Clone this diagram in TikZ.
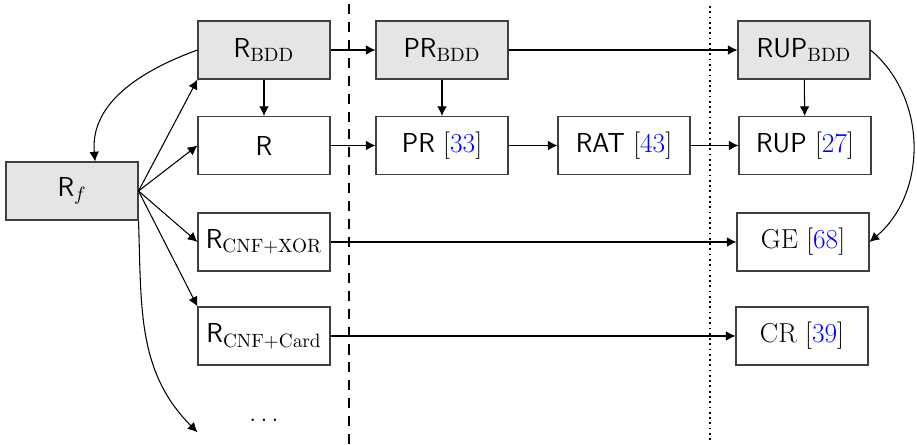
\documentclass[tikz,border=0pt]{standalone}
\usetikzlibrary{arrows.meta}
\newcommand\refc[1]{[\textcolor{blue}{#1}]}
\begin{document}
\begin{tikzpicture}[x=0.02cm,y=-0.02cm,
 box/.style={draw=black!75, line width=0.6pt, minimum width=2.64cm, minimum height=1.16cm, inner sep=0pt, font=\fontsize{15.6}{18}\selectfont},
 gbox/.style={box, fill=black!10},
 arr/.style={-{Latex[length=5.5pt,width=5.5pt]}, line width=0.6pt},
 sepdash/.style={line width=0.9pt, dash pattern=on 5.7pt off 4.5pt},
 sepdot/.style={line width=1pt, dotted}]
\useasboundingbox (0,0) rectangle (917,445);
\node[gbox] (Rf) at (72,191) {\textsf{R}$_f$};
\node[gbox] (RBDD) at (264,50) {\textsf{R}$_{\mathrm{BDD}}$};
\node[box] (R) at (264,145.5) {\textsf{R}};
\node[box] (XOR) at (264,242) {\textsf{R}$_{\mathrm{CNF+XOR}}$};
\node[box] (Card) at (264,336) {\textsf{R}$_{\mathrm{CNF+Card}}$};
\node[box, draw=none] (dots) at (264,420) {$\ldots$};
\node[gbox] (PRBDD) at (442,50) {\textsf{PR}$_{\mathrm{BDD}}$};
\node[box] (PR) at (442,145.5) {\textsf{PR} \refc{33}};
\node[box] (RAT) at (624,145.5) {\textsf{RAT} \refc{43}};
\node[gbox] (RUPBDD) at (804,50) {\textsf{RUP}$_{\mathrm{BDD}}$};
\node[box] (RUP) at (805,145.5) {\textsf{RUP} \refc{27}};
\node[box] (GE) at (803,242) {GE \refc{68}};
\node[box] (CR) at (802,336) {CR \refc{39}};
\draw[sepdash] (349,4) -- (349,445);
\draw[sepdot] (710,6) -- (710,442);
\draw[arr] (RBDD.west) to[out=200,in=95] (Rf.52);
\draw[arr] (Rf.east) -- (RBDD.south west);
\draw[arr] (Rf.east) -- (R.west);
\draw[arr] (Rf.east) -- (XOR.west);
\draw[arr] (Rf.east) -- (Card.north west);
\draw[arr] (Rf.south east) to[out=-88,in=135] ([yshift=-7]dots.west);
\draw[arr] (RBDD) -- (R);
\draw[arr] (RBDD) -- (PRBDD);
\draw[arr] (R) -- (PR);
\draw[arr] (PRBDD) -- (PR);
\draw[arr] (PR) -- (RAT);
\draw[arr] (PRBDD) -- (RUPBDD);
\draw[arr] (RAT) -- (RUP);
\draw[arr] (RUPBDD) -- (RUP);
\draw[arr] (RUPBDD.east) to[out=-40,in=40] (GE.east);
\draw[arr] (XOR) -- (GE);
\draw[arr] (Card) -- (CR);
\end{tikzpicture}
\end{document}
